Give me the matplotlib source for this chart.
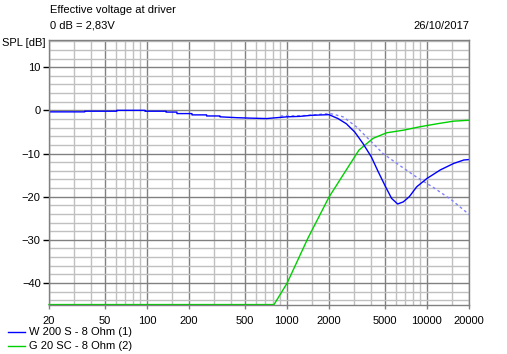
import matplotlib.pyplot as plt
from matplotlib.ticker import FixedLocator, NullFormatter

plt.rcParams['font.family'] = ['Liberation Sans', 'DejaVu Sans']

# W 200 S - 8 Ohm (1)
w_freq = [20, 36, 36, 61, 61, 97, 97, 137, 137, 164, 164, 210, 210, 267, 267, 333, 333,
          441, 546, 715, 1002, 1238, 1492, 1999, 2318, 2658, 3051, 3500, 4015, 4490,
          5070, 5600, 6185, 6790, 7495, 8470, 9998, 12480, 15550, 18380, 20000]
w_spl = [-0.35, -0.35, -0.2, -0.2, 0.0, 0.0, -0.2, -0.2, -0.4, -0.4, -0.75, -0.75, -1.05,
         -1.05, -1.3, -1.3, -1.5, -1.7, -1.8, -1.9, -1.5, -1.4, -1.15, -1.0, -1.9, -3.1,
         -5.0, -7.7, -10.8, -14.2, -17.7, -20.4, -21.7, -21.2, -20.0, -17.7, -15.8,
         -13.8, -12.3, -11.5, -11.4]

# dashed target curve
t_freq = [900, 1385, 2024, 2520, 3135, 3905, 4860, 6350, 8470, 11300, 15070, 20000]
t_spl = [-1.3, -1.2, -0.7, -1.5, -3.8, -6.9, -10.0, -12.7, -15.5, -18.0, -20.8, -24.1]

# G 20 SC - 8 Ohm (2)
g_freq = [20, 810, 1005, 1415, 2000, 2658, 3275, 4120, 5160, 6790, 8930, 11880, 15550, 20000]
g_spl = [-45, -45, -40, -29.6, -20.1, -13.8, -9.2, -6.5, -5.2, -4.6, -3.8, -3.1, -2.5, -2.3]

x_major = [20, 50, 100, 200, 500, 1000, 2000, 5000, 10000, 20000]
x_minor = [30, 40, 60, 70, 80, 90, 150, 300, 400, 600, 700, 800, 900, 1500,
           3000, 4000, 6000, 7000, 8000, 9000, 15000]
y_major = [10, 0, -10, -20, -30, -40]

W, H = 507, 354
fig = plt.figure(figsize=(W / 100, H / 100), dpi=100)
ax = fig.add_axes([49 / W, (H - 305) / H, 420 / W, 265 / H])

ax.set_xscale('log')
ax.set_xlim(20, 20000)
ax.set_ylim(-45.1, 16.3)

ax.xaxis.set_major_locator(FixedLocator(x_major))
ax.xaxis.set_minor_locator(FixedLocator(x_minor))
ax.xaxis.set_minor_formatter(NullFormatter())
ax.set_xticklabels([str(v) for v in x_major])
ax.yaxis.set_major_locator(FixedLocator(y_major))
ax.yaxis.set_minor_locator(FixedLocator([v for v in range(-44, 17, 2) if v % 10]))

ax.grid(which='major', color='#808080', lw=1)
ax.grid(which='minor', color='#c0c0c0', lw=1)
ax.set_axisbelow(True)

ax.tick_params(axis='both', which='major', labelsize=8, width=1, pad=2)
ax.tick_params(axis='y', which='major', length=4, color='black')
ax.tick_params(axis='x', which='major', length=3, pad=5, color='#808080')
ax.tick_params(axis='both', which='minor', length=0)

for s in ax.spines.values():
    s.set_color('#808080')
    s.set_linewidth(1)

ax.plot(t_freq, t_spl, color='#8080ff', lw=1, ls=(0, (2, 2)))
ax.plot(g_freq, g_spl, color='#00d000', lw=1, clip_on=False)
ax.plot(w_freq, w_spl, color='#0000ff', lw=1)

fig.text(50 / W, 1 - 10 / H, 'Effective voltage at driver', fontsize=8, va='center')
fig.text(50 / W, 1 - 26 / H, '0 dB = 2,83V', fontsize=8, va='center')
fig.text(469 / W, 1 - 26 / H, '26/10/2017', fontsize=8, va='center', ha='right')
fig.text(2 / W, 1 - 43 / H, 'SPL [dB]', fontsize=8, va='center')

# legend
fig.add_artist(plt.Line2D([8 / W, 25 / W], [1 - 332 / H, 1 - 332 / H], color='#0000ff', lw=1))
fig.add_artist(plt.Line2D([8 / W, 25 / W], [1 - 346 / H, 1 - 346 / H], color='#00d000', lw=1))
fig.text(29 / W, 1 - 332 / H, 'W 200 S - 8 Ohm (1)', fontsize=8, va='center')
fig.text(29 / W, 1 - 346 / H, 'G 20 SC - 8 Ohm (2)', fontsize=8, va='center')

fig.savefig('out.png', dpi=100)
